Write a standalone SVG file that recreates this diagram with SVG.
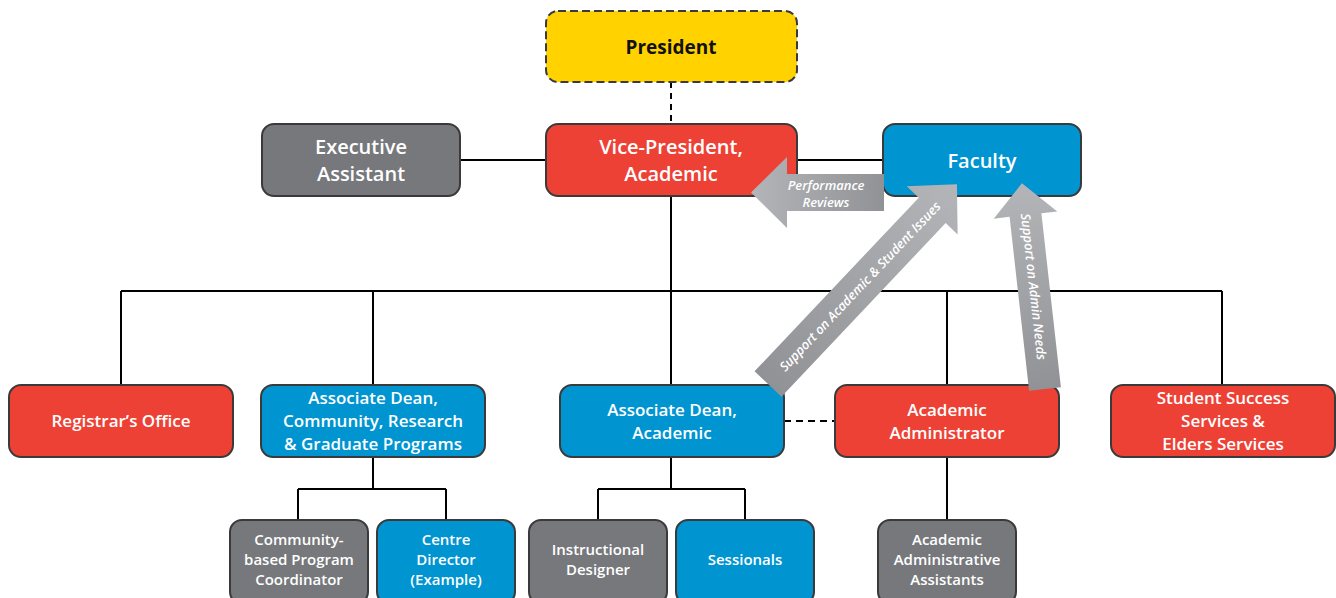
<svg xmlns="http://www.w3.org/2000/svg" width="1336" height="598" viewBox="0 0 1336 598">
<defs>
<linearGradient id="ag" x1="0" y1="0" x2="1" y2="0">
<stop offset="0" stop-color="#909295"/>
<stop offset="1" stop-color="#B4B5B8"/>
</linearGradient>
</defs>
<style>
.box{stroke:#3A3A3A;stroke-width:2}
.red{fill:#EE4136}
.blue{fill:#0094D0}
.gray{fill:#76787B}
.yel{fill:#FFD200}
.ln{stroke:#000;stroke-width:2;fill:none}
.t{font-family:"Open Sans","Liberation Sans",sans-serif;font-weight:600;fill:#fff;text-anchor:middle}
.l{font-size:20px}
.m{font-size:17px}
.s{font-size:15px}
.a{font-family:"Open Sans","Liberation Sans",sans-serif;font-style:italic;font-weight:600;font-size:13px;fill:#fff;text-anchor:middle}
.arr{fill:url(#ag)}
</style>
<rect width="1336" height="598" fill="#fff"/>
<g id="connectors">
<path class="ln" d="M671,82 V124" stroke-dasharray="6,5"/>
<path class="ln" d="M460,160 H546 M797,160 H883"/>
<path class="ln" d="M671,196 V385 M121,291 H1222 M121,291 V385 M373,291 V385 M947,291 V385 M1222,291 V385"/>
<path class="ln" d="M784,421 H835" stroke-dasharray="7,5"/>
<path class="ln" d="M373,457 V489 M298,489 H446 M298,489 V520 M446,489 V520"/>
<path class="ln" d="M671,457 V489 M598,489 H745 M598,489 V520 M745,489 V520"/>
<path class="ln" d="M947,457 V520"/>
</g>
<g id="president">
<rect class="box yel" x="546" y="11" width="251" height="71" rx="12" stroke-dasharray="8,4"/>
<text class="t" x="671" y="54" font-size="19" style="fill:#111;font-weight:700">President</text>
</g>
<g id="vp">
<rect class="box red" x="546" y="124" width="251" height="72" rx="12"/>
<text class="t l" x="671" y="154">Vice-President,</text>
<text class="t l" x="671" y="181">Academic</text>
</g>
<g id="exec">
<rect class="box gray" x="262" y="124" width="198" height="72" rx="12"/>
<text class="t l" x="361" y="154">Executive</text>
<text class="t l" x="361" y="181">Assistant</text>
</g>
<g id="faculty">
<rect class="box blue" x="883" y="124" width="198" height="72" rx="12"/>
<text class="t l" x="982" y="168">Faculty</text>
</g>
<g id="registrar">
<rect class="box red" x="9" y="385" width="224" height="72" rx="12"/>
<text class="t m" x="121" y="427">Registrar’s Office</text>
</g>
<g id="adcrg">
<rect class="box blue" x="261" y="385" width="224" height="72" rx="12"/>
<text class="t m" x="373" y="404">Associate Dean,</text>
<text class="t m" x="373" y="427">Community, Research</text>
<text class="t m" x="373" y="450">&amp; Graduate Programs</text>
</g>
<g id="adacad">
<rect class="box blue" x="560" y="385" width="224" height="72" rx="12"/>
<text class="t m" x="672" y="416">Associate Dean,</text>
<text class="t m" x="672" y="439">Academic</text>
</g>
<g id="acadadmin">
<rect class="box red" x="835" y="385" width="224" height="72" rx="12"/>
<text class="t m" x="947" y="416">Academic</text>
<text class="t m" x="947" y="439">Administrator</text>
</g>
<g id="studentsuccess">
<rect class="box red" x="1111" y="385" width="224" height="72" rx="12"/>
<text class="t m" x="1223" y="404">Student Success</text>
<text class="t m" x="1223" y="427">Services &amp;</text>
<text class="t m" x="1223" y="450">Elders Services</text>
</g>
<g id="cbpc">
<rect class="box gray" x="230" y="520" width="138" height="84" rx="12"/>
<text class="t s" x="299" y="545">Community-</text>
<text class="t s" x="299" y="565">based Program</text>
<text class="t s" x="299" y="585">Coordinator</text>
</g>
<g id="centre">
<rect class="box blue" x="377" y="520" width="138" height="84" rx="12"/>
<text class="t s" x="446" y="545">Centre</text>
<text class="t s" x="446" y="565">Director</text>
<text class="t s" x="446" y="585">(Example)</text>
</g>
<g id="instr">
<rect class="box gray" x="529" y="520" width="138" height="84" rx="12"/>
<text class="t s" x="598" y="555">Instructional</text>
<text class="t s" x="598" y="575">Designer</text>
</g>
<g id="sessionals">
<rect class="box blue" x="676" y="520" width="138" height="84" rx="12"/>
<text class="t s" x="745" y="565">Sessionals</text>
</g>
<g id="aaa">
<rect class="box gray" x="878" y="520" width="138" height="84" rx="12"/>
<text class="t s" x="947" y="545">Academic</text>
<text class="t s" x="947" y="565">Administrative</text>
<text class="t s" x="947" y="585">Assistants</text>
</g>
<g id="arrows">
<g transform="translate(884,192.5) rotate(180)">
<path class="arr" d="M0,-18.5 H97 V-35.5 L133,0 L97,35.5 V18.5 H0 Z"/>
</g>
<text class="a" x="826" y="190">Performance</text>
<text class="a" x="826" y="207">Reviews</text>
<g transform="translate(768,384) rotate(-46.6)">
<path class="arr" d="M0,-18.5 H239 V-35 L275,0 L239,35 V18.5 H0 Z"/>
<text class="a" x="134" y="4.5">Support on Academic &amp; Student Issues</text>
</g>
<g transform="translate(1045,389) rotate(-96.4)">
<path class="arr" d="M0,-16 H175 V-32 L207,0 L175,32 V16 H0 Z"/>
<text class="a" transform="translate(103,0) rotate(180)" y="4.5">Support on Admin Needs</text>
</g>
</g>
</svg>
